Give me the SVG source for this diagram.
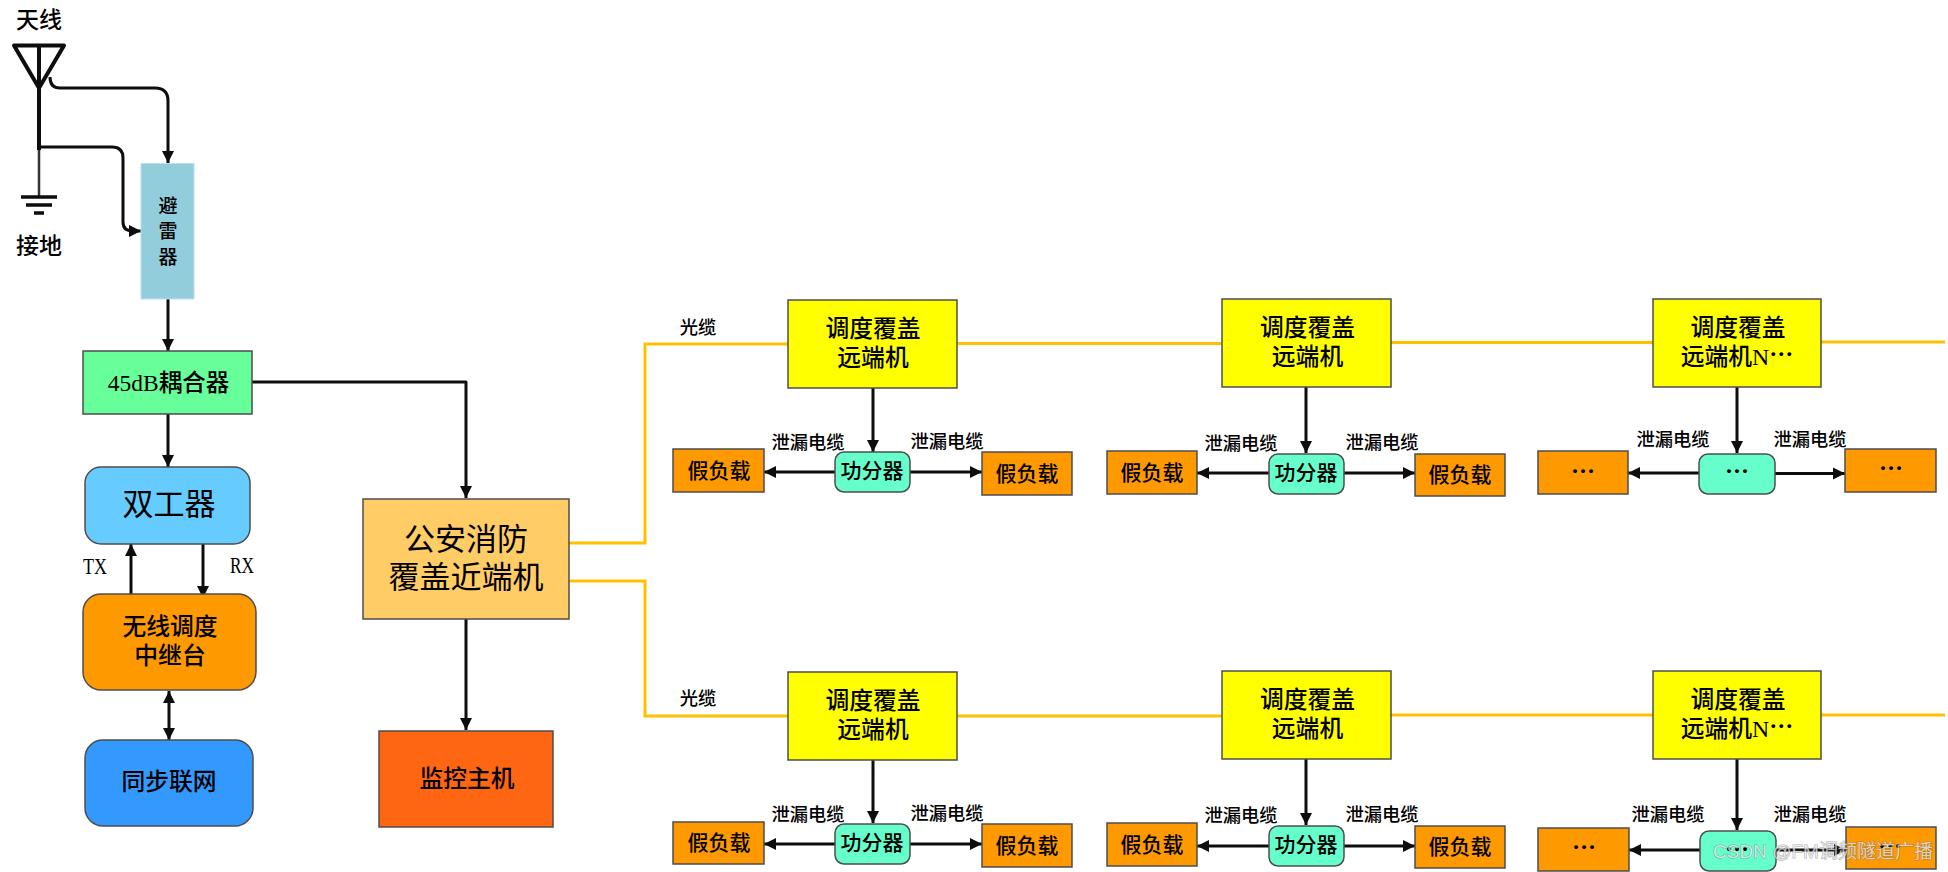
<svg xmlns="http://www.w3.org/2000/svg" width="1948" height="872" viewBox="0 0 1948 872">
<style>
text{font-family:"Liberation Serif","Noto Sans CJK SC",serif;fill:#000;text-anchor:middle}
.box{stroke:#4d4d4d;stroke-width:1.5}
.remote{fill:#FFFF00}.div{fill:#66FFCC}.load{fill:#FF9900}
.c{fill:none;stroke:#0d0d0d;stroke-width:3;stroke-linejoin:round}
.a{marker-end:url(#ah)}
.fiber{fill:none;stroke:#FFC000;stroke-width:3}
.t21{font-size:21px;font-weight:500}.t24{font-size:23.800px;font-weight:500}.t18{font-size:18.300px;font-weight:500}
.dots{font-family:"Liberation Serif",serif;font-size:24px;font-weight:700}
.wm{font-family:"Liberation Sans","Noto Sans CJK SC",sans-serif;font-size:19px;fill:#fff;fill-opacity:.65;stroke:#666;stroke-opacity:.55;stroke-width:1;paint-order:stroke}
</style>
<defs>
<marker id="ah" markerUnits="userSpaceOnUse" markerWidth="13" markerHeight="13" refX="12" refY="6.5" orient="auto"><path d="M0 .5L12 6.500L0 12.500Z" fill="#0d0d0d"/></marker>
<marker id="as" markerUnits="userSpaceOnUse" markerWidth="13" markerHeight="13" refX="12" refY="6.5" orient="auto-start-reverse"><path d="M0 .5L12 6.500L0 12.500Z" fill="#0d0d0d"/></marker>
</defs>
<rect width="1948" height="872" fill="#fff"/>
<g id="connectors">
<path class="c" d="M50 77C50 84 53 88 60 88L155 88Q168 88 168 101L168 163" marker-end="url(#ah)"/>
<path class="c" d="M39 147L112 147Q123 147 123 158L123 222Q123 231 133 231L141 231" marker-end="url(#ah)"/>
<path class="c a" d="M168 298V351"/>
<path class="c a" d="M168 414V467"/>
<path class="c a" d="M131 596V544"/>
<path class="c a" d="M203 544V598"/>
<path class="c" d="M169 691V740" marker-start="url(#as)" marker-end="url(#as)"/>
<path class="c a" d="M252 382H466V498"/>
<path class="c a" d="M466 618V730"/>
<path class="c a" d="M873 388V452"/><path class="c a" d="M835 472H764"/><path class="c a" d="M910 472H982"/>
<path class="c a" d="M1306 387V453"/><path class="c a" d="M1269 473H1197"/><path class="c a" d="M1344 473H1415"/>
<path class="c a" d="M1737 387V453"/><path class="c a" d="M1699 473H1628"/><path class="c a" d="M1775 473.500H1845"/>
<path class="c a" d="M873 760V823"/><path class="c a" d="M835 844H764"/><path class="c a" d="M910 844H982"/>
<path class="c a" d="M1306 759V825"/><path class="c a" d="M1269 846H1197"/><path class="c a" d="M1344 846H1415"/>
<path class="c a" d="M1737 759V830"/><path class="c a" d="M1700 850H1629"/><path class="c a" d="M1776 850H1846"/>
<path class="fiber" d="M569 543H645V344H788"/>
<path class="fiber" d="M957 343.500H1222"/><path class="fiber" d="M1391 342.500H1653"/><path class="fiber" d="M1821 342H1945"/>
<path class="fiber" d="M569 581H645V716H788"/>
<path class="fiber" d="M957 716H1222"/><path class="fiber" d="M1391 715H1653"/><path class="fiber" d="M1821 715H1945"/>
</g>
<g id="antenna" fill="none" stroke="#0d0d0d">
<path d="M14 45.500H64L39 88Z" stroke-width="4" stroke-linejoin="round"/>
<path d="M39 45V150" stroke-width="4"/>
<path d="M39 150V197" stroke-width="2.500" stroke="#333"/>
<text x="39" y="28" style="font-size:23px;font-weight:500" stroke="none">天线</text>
</g>
<g id="ground" fill="none" stroke="#0d0d0d" stroke-width="3.500">
<path d="M21 197H57M26 205H52M34 213H44"/>
<text x="39" y="254" style="font-size:23px;font-weight:500" stroke="none">接地</text>
</g>
<g id="arrester">
<rect x="141" y="163.500" width="53" height="135.500" fill="#92CDDC" stroke="#BCE0EA"/>
<text x="168" y="213" class="t18" style="font-size:19px">避</text>
<text x="168" y="238" class="t18" style="font-size:19px">雷</text>
<text x="168" y="264" class="t18" style="font-size:19px">器</text>
</g>
<g id="coupler"><rect class="box" x="83" y="351" width="169" height="63" fill="#66FF99"/>
<text x="168.500" y="391" style="font-size:23.500px;font-weight:500">45dB耦合器</text></g>
<g id="duplexer"><rect class="box" x="85" y="467" width="165" height="77" rx="16" fill="#66CCFF"/>
<text x="169" y="515" style="font-size:31px">双工器</text></g>
<text x="95" y="574" textLength="24" lengthAdjust="spacingAndGlyphs" style="font-size:23px">TX</text>
<text x="242" y="573" textLength="24" lengthAdjust="spacingAndGlyphs" style="font-size:23px">RX</text>
<g id="repeater"><rect class="box" x="83" y="594" width="173" height="96" rx="18" fill="#FF9900"/>
<text x="170" y="635" class="t24">无线调度</text><text x="170" y="664" class="t24">中继台</text></g>
<g id="sync"><rect class="box" x="85" y="740" width="168" height="86" rx="18" fill="#3399FF"/>
<text x="169" y="790" class="t24">同步联网</text></g>
<g id="near"><rect class="box" x="363" y="499" width="206" height="120" fill="#FFCC66"/>
<text x="466" y="550" style="font-size:31px">公安消防</text><text x="466" y="588" style="font-size:31px">覆盖近端机</text></g>
<g id="monitor"><rect class="box" x="379" y="731" width="174" height="96" fill="#FF6611"/>
<text x="467" y="787" class="t24">监控主机</text></g>

<g id="remote-1a"><rect class="box remote" x="788" y="300" width="169" height="88"/><text x="873" y="337" class="t24">调度覆盖</text><text x="873" y="366" class="t24">远端机</text></g>
<g id="remote-1b"><rect class="box remote" x="1222" y="299" width="169" height="88"/><text x="1307.500" y="336" class="t24">调度覆盖</text><text x="1307.500" y="365" class="t24">远端机</text></g>
<g id="remote-1c"><rect class="box remote" x="1653" y="299" width="168" height="88"/><text x="1738" y="336" class="t24">调度覆盖</text><text x="1737" y="365" class="t24">远端机N<tspan class="dots" dy="-3">···</tspan></text></g>
<g id="remote-2a"><rect class="box remote" x="788" y="672" width="169" height="88"/><text x="873" y="709" class="t24">调度覆盖</text><text x="873" y="738" class="t24">远端机</text></g>
<g id="remote-2b"><rect class="box remote" x="1222" y="671" width="169" height="88"/><text x="1307.500" y="708" class="t24">调度覆盖</text><text x="1307.500" y="737" class="t24">远端机</text></g>
<g id="remote-2c"><rect class="box remote" x="1653" y="671" width="168" height="88"/><text x="1738" y="708" class="t24">调度覆盖</text><text x="1737" y="737" class="t24">远端机N<tspan class="dots" dy="-3">···</tspan></text></g>

<g id="splitter-1a"><rect class="box div" x="835" y="452" width="75" height="40" rx="9"/><text x="872" y="478" class="t21">功分器</text></g>
<g id="splitter-1b"><rect class="box div" x="1269" y="454" width="75" height="40" rx="9"/><text x="1306" y="480" class="t21">功分器</text></g>
<g id="splitter-1c"><rect class="box div" x="1699" y="454" width="76" height="40" rx="9"/><text x="1737" y="479" class="dots">···</text></g>
<g id="splitter-2a"><rect class="box div" x="835" y="824" width="75" height="40" rx="9"/><text x="872" y="850" class="t21">功分器</text></g>
<g id="splitter-2b"><rect class="box div" x="1269" y="826" width="75" height="40" rx="9"/><text x="1306" y="852" class="t21">功分器</text></g>
<g id="splitter-2c"><rect class="box div" x="1700" y="831" width="76" height="40" rx="9"/><text x="1737" y="857" class="dots">···</text></g>

<g id="load-1a-l"><rect class="box load" x="673" y="449" width="91" height="43"/><text x="719" y="478" class="t21">假负载</text></g>
<g id="load-1a-r"><rect class="box load" x="982" y="452" width="90" height="43"/><text x="1027" y="481" class="t21">假负载</text></g>
<g id="load-1b-l"><rect class="box load" x="1107" y="451" width="90" height="43"/><text x="1152" y="480" class="t21">假负载</text></g>
<g id="load-1b-r"><rect class="box load" x="1415" y="454" width="90" height="42"/><text x="1460" y="482" class="t21">假负载</text></g>
<g id="load-1c-l"><rect class="box load" x="1538" y="451" width="90" height="43"/><text x="1583" y="479" class="dots">···</text></g>
<g id="load-1c-r"><rect class="box load" x="1845" y="449" width="91" height="43"/><text x="1891" y="476" class="dots">···</text></g>
<g id="load-2a-l"><rect class="box load" x="673" y="822" width="91" height="42"/><text x="719" y="850" class="t21">假负载</text></g>
<g id="load-2a-r"><rect class="box load" x="982" y="824" width="90" height="43"/><text x="1027" y="853" class="t21">假负载</text></g>
<g id="load-2b-l"><rect class="box load" x="1107" y="823" width="90" height="43"/><text x="1152" y="852" class="t21">假负载</text></g>
<g id="load-2b-r"><rect class="box load" x="1415" y="826" width="90" height="42"/><text x="1460" y="854" class="t21">假负载</text></g>
<g id="load-2c-l"><rect class="box load" x="1538" y="828" width="91" height="43"/><text x="1584" y="855" class="dots">···</text></g>
<g id="load-2c-r"><rect class="box load" x="1846" y="827" width="90" height="42"/><text x="1890" y="854" class="dots">···</text></g>

<g id="labels">
<text x="698" y="334" class="t18">光缆</text><text x="698" y="705" class="t18">光缆</text>
<text x="808" y="449" class="t18">泄漏电缆</text><text x="947" y="448" class="t18">泄漏电缆</text>
<text x="1241" y="450" class="t18">泄漏电缆</text><text x="1382" y="449" class="t18">泄漏电缆</text>
<text x="1673" y="446" class="t18">泄漏电缆</text><text x="1810" y="446" class="t18">泄漏电缆</text>
<text x="808" y="821" class="t18">泄漏电缆</text><text x="947" y="820" class="t18">泄漏电缆</text>
<text x="1241" y="822" class="t18">泄漏电缆</text><text x="1382" y="821" class="t18">泄漏电缆</text>
<text x="1668" y="821" class="t18">泄漏电缆</text><text x="1810" y="821" class="t18">泄漏电缆</text>
</g>
<text x="1823" y="858" class="wm">CSDN @FM调频隧道广播</text>
</svg>
